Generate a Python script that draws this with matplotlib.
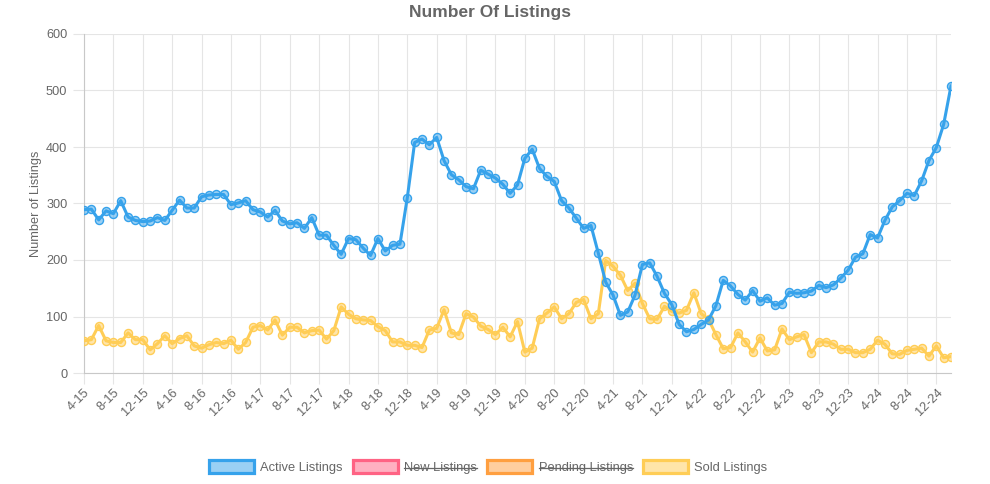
import numpy as np
import pandas as pd
import matplotlib
matplotlib.use("Agg")
import matplotlib.pyplot as plt
from matplotlib.patches import Patch
from matplotlib.lines import Line2D

plt.rcParams['font.family'] = ['Liberation Sans', 'DejaVu Sans']

# monthly labels, Apr 2015 .. Feb 2025
months = pd.date_range('2015-04-01', '2025-02-01', freq='MS')
labels = [f"{d.month}-{d.year % 100}" for d in months]

active = [289, 290, 271, 287, 282, 305, 276, 270, 268, 269, 275, 270,
          288, 306, 292, 292, 312, 315, 316, 316, 298, 301, 305, 289,
          285, 276, 288, 269, 264, 266, 256, 275, 244, 244, 226, 210,
          238, 236, 221, 208, 238, 216, 226, 228, 310, 408, 414, 404,
          417, 376, 351, 342, 330, 326, 359, 352, 345, 334, 318, 333,
          380, 396, 362, 348, 339, 305, 292, 274, 256, 261, 212, 161,
          138, 102, 108, 138, 192, 195, 171, 141, 121, 86, 73, 77,
          86, 94, 119, 164, 154, 139, 129, 146, 127, 133, 120, 123,
          143, 141, 142, 145, 155, 151, 156, 168, 182, 205, 211, 245,
          239, 270, 294, 305, 318, 314, 340, 376, 399, 440, 508]

sold = [57, 59, 84, 57, 54, 54, 71, 59, 59, 41, 52, 66,
        52, 61, 66, 48, 44, 50, 54, 52, 58, 42, 54, 81,
        84, 76, 94, 67, 81, 81, 71, 75, 76, 60, 75, 117,
        104, 96, 94, 93, 82, 75, 55, 55, 49, 49, 45, 76,
        79, 112, 71, 68, 105, 99, 83, 77, 68, 81, 64, 91,
        37, 44, 96, 106, 117, 96, 105, 125, 130, 96, 105, 199,
        189, 173, 146, 159, 123, 96, 95, 118, 109, 106, 111, 142,
        105, 95, 68, 43, 45, 71, 55, 37, 62, 39, 41, 78,
        59, 64, 68, 36, 55, 55, 51, 42, 42, 36, 36, 42,
        58, 51, 34, 33, 40, 42, 44, 30, 48, 27, 29]

legend_names = ['Active Listings', 'New Listings', 'Pending Listings', 'Sold Listings']
legend_hidden = [False, True, True, False]

blue = '#36A2EB'
pink = '#FF6384'
orange = '#FF9F40'
yellow = '#FFCD56'
colors = [blue, pink, orange, yellow]
txt = '#666666'
grid = '#e5e5e5'

x = np.arange(len(labels))

fig = plt.figure(figsize=(9.9, 4.84), dpi=100)
ax = fig.add_axes([84/990, 1-373/484, (951-84)/990, (373-34)/484])

def rgba(c, a):
    r, g, b = matplotlib.colors.to_rgb(c)
    return (r, g, b, a)

ax.plot(x, sold, color=yellow, lw=2.2, marker='o', ms=5.8,
        mfc=rgba(yellow, 0.5), mec=yellow, mew=1, zorder=3)
ax.plot(x, active, color=blue, lw=2.2, marker='o', ms=5.8,
        mfc=rgba(blue, 0.5), mec=blue, mew=1, zorder=4)

ax.set_xlim(0, len(labels) - 1)
ax.set_ylim(0, 600)
ax.set_yticks(range(0, 601, 100))
ax.set_xticks(x[::4])
ax.set_xticklabels(labels[::4], rotation=45, ha='right', rotation_mode='anchor')

ax.grid(True, color=grid, lw=0.8)
ax.set_axisbelow(True)
for sp in ['top', 'right']:
    ax.spines[sp].set_visible(False)
for sp in ['left', 'bottom']:
    ax.spines[sp].set_color('#c8c8c8')
    ax.spines[sp].set_linewidth(0.8)
ax.tick_params(axis='both', colors=grid, labelcolor=txt, labelsize=9.2,
               length=8, width=0.8)
ax.tick_params(axis='x', pad=2)
ax.tick_params(axis='y', pad=4)

ax.set_ylabel('Number of Listings', color=txt, fontsize=9.2, labelpad=3)
fig.text(0.495, 1-12/484, 'Number Of Listings', ha='center', va='center',
         fontsize=12.5, fontweight='bold', color=txt)

handles = [Patch(facecolor=rgba(c, 0.5), edgecolor=c, linewidth=2.3)
           for c in colors]
leg = fig.legend(handles, legend_names, loc='center', ncol=4,
                 bbox_to_anchor=(0.493, 1-467/484), frameon=False,
                 fontsize=9.3, handlelength=3.5, handleheight=1.1,
                 handletextpad=0.5, columnspacing=0.75, labelcolor=txt)

fig.canvas.draw()
renderer = fig.canvas.get_renderer()
for t, hidden in zip(leg.get_texts(), legend_hidden):
    if hidden:
        bb = t.get_window_extent(renderer).transformed(fig.transFigure.inverted())
        ym = (bb.y0 + bb.y1) / 2
        fig.add_artist(Line2D([bb.x0, bb.x1], [ym, ym], color=txt, lw=0.9,
                              transform=fig.transFigure))

fig.savefig('out.png', dpi=100)
